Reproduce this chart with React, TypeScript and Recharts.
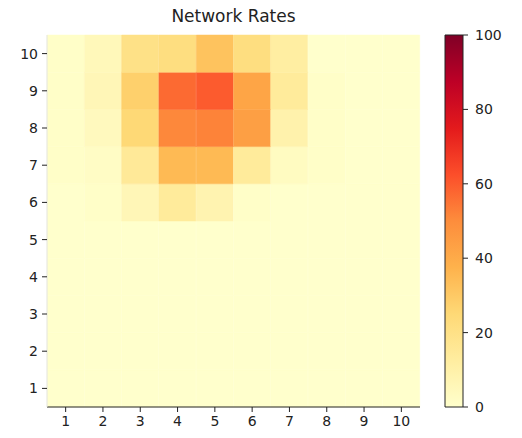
import { BarChart, Bar, XAxis, YAxis, Cell, Label } from "recharts";

// columns (x) and rows (y) of the grid
const xLabels = [1, 2, 3, 4, 5, 6, 7, 8, 9, 10];
const yLabels = [1, 2, 3, 4, 5, 6, 7, 8, 9, 10];

// rate per cell, one array per row, row 1 at the bottom
const row1 = [0, 0, 0, 0, 0, 0, 0, 0, 0, 0];
const row2 = [0, 0, 0, 0, 0, 0, 0, 0, 0, 0];
const row3 = [0, 0, 0, 0, 0, 0, 0, 0, 0, 0];
const row4 = [0, 0, 0, 0, 0, 0, 0, 0, 0, 0];
const row5 = [0, 0, 0, 0, 0, 0, 0, 0, 0, 0];
const row6 = [0, 1, 6, 14, 8, 1, 0, 0, 0, 0];
const row7 = [1, 2, 15, 35, 35, 14, 3, 1, 0, 0];
const row8 = [1, 4, 25, 51, 52, 44, 9, 1, 0, 0];
const row9 = [1, 6, 28, 57, 60, 42, 14, 1, 0, 0];
const row10 = [1, 5, 20, 22, 32, 22, 12, 0, 0, 0];
const rows = [row1, row2, row3, row4, row5, row6, row7, row8, row9, row10];

const cbarTicks = [0, 20, 40, 60, 80, 100];

// matplotlib YlOrRd
const YLORRD = ["#ffffcc", "#ffeda0", "#fed976", "#feb24c", "#fd8d3c", "#fc4e2a", "#e31a1c", "#bd0026", "#800026"];

function hex(c: string) {
  return [1, 3, 5].map((i) => parseInt(c.slice(i, i + 2), 16));
}

function colorFor(v: number) {
  const t = Math.max(0, Math.min(1, v / 100)) * (YLORRD.length - 1);
  const i = Math.min(Math.floor(t), YLORRD.length - 2);
  const f = t - i;
  const a = hex(YLORRD[i]);
  const b = hex(YLORRD[i + 1]);
  const m = a.map((x, k) => Math.round(x + (b[k] - x) * f));
  return `rgb(${m[0]},${m[1]},${m[2]})`;
}

// each column is a stack of unit blocks, one per row
const gridData = xLabels.map((x) => {
  const d: Record<string, number> = { x };
  yLabels.forEach((_, r) => (d["r" + r] = 1));
  return d;
});

const font = "'DejaVu Sans', sans-serif";
const tickStyle = { fontSize: 14, fill: "#222", fontFamily: font };

export default function App() {
  return (
    <div style={{ position: "absolute", left: 0, top: 0, width: 522, height: 438, background: "#fff", fontFamily: font }}>
      <div style={{ position: "absolute", left: 0, top: 6, width: 467, textAlign: "center", fontSize: 17, color: "#222" }}>
        Network Rates
      </div>
      <div style={{ position: "absolute", left: 0, top: 0 }}>
        <BarChart
          width={430}
          height={438}
          data={gridData}
          margin={{ top: 35, right: 10, bottom: 6, left: 10 }}
          barCategoryGap={0}
        >
          <XAxis
            dataKey="x"
            height={25}
            tick={tickStyle}
            tickSize={5}
            tickMargin={4}
            tickLine={{ stroke: "#222" }}
            axisLine={{ stroke: "#222" }}
            interval={0}
          />
          <XAxis xAxisId="top" dataKey="x" orientation="top" height={0} tick={false} tickLine={false} axisLine={{ stroke: "#e4e4e4" }} />
          <YAxis
            type="number"
            domain={[0, 10]}
            ticks={yLabels.map((y) => y - 0.5)}
            tickFormatter={(v: number) => String(v + 0.5)}
            width={37}
            tick={tickStyle}
            tickSize={5}
            tickMargin={4}
            tickLine={{ stroke: "#222" }}
            axisLine={{ stroke: "#e4e4e4" }}
            interval={0}
          />
          <YAxis yAxisId="right" orientation="right" width={0} domain={[0, 10]} tick={false} tickLine={false} axisLine={{ stroke: "#222" }} />
          {rows.map((row, r) => (
            <Bar key={r} dataKey={"r" + r} stackId="grid" isAnimationActive={false}>
              {row.map((v, c) => (
                <Cell key={c} fill={colorFor(v)} stroke={colorFor(v)} strokeWidth={0.5} />
              ))}
            </Bar>
          ))}
        </BarChart>
      </div>
      <div style={{ position: "absolute", left: 430, top: 0 }}>
        <BarChart
          width={92}
          height={438}
          data={[{ name: "cbar", value: 100 }]}
          margin={{ top: 35, right: 34, bottom: 31, left: 15 }}
          barCategoryGap={0}
        >
          <defs>
            <linearGradient id="ylorrd" x1="0" y1="1" x2="0" y2="0">
              {YLORRD.map((c, i) => (
                <stop key={i} offset={i / (YLORRD.length - 1)} stopColor={c} />
              ))}
            </linearGradient>
          </defs>
          <XAxis dataKey="name" hide />
          <YAxis
            orientation="right"
            type="number"
            domain={[0, 100]}
            ticks={cbarTicks}
            width={25}
            tick={{ ...tickStyle, textAnchor: "start" }}
            tickSize={5}
            tickMargin={7}
            tickLine={{ stroke: "#222" }}
            axisLine={false}
            interval={0}
          >
            <Label
              content={() => (
                <text x={508} y={233} fontSize={14} fill="#222" fontFamily={font}>
                  Hz
                </text>
              )}
            />
          </YAxis>
          <Bar dataKey="value" fill="url(#ylorrd)" stroke="#222" strokeWidth={1} isAnimationActive={false} />
        </BarChart>
      </div>
    </div>
  );
}
